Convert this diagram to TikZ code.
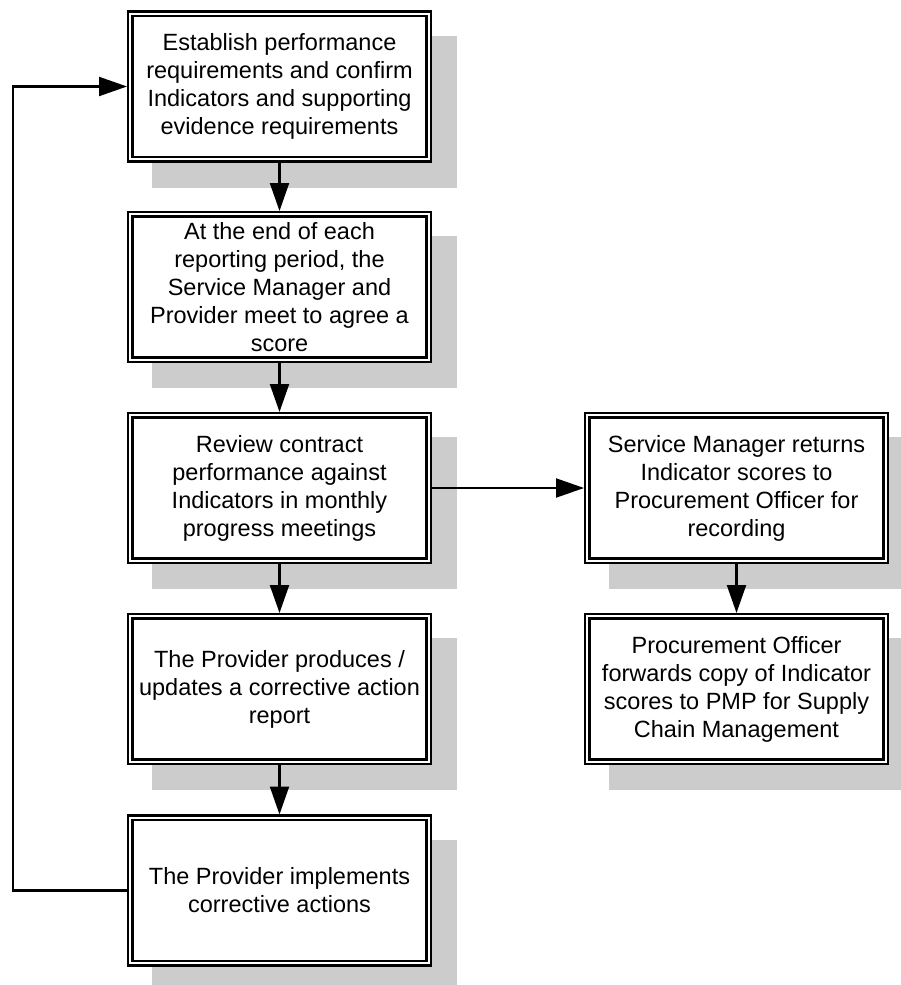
\documentclass[tikz,border=0pt]{standalone}
\usepackage{fontspec}
\setmainfont{Liberation Sans}
\usetikzlibrary{arrows.meta,calc,backgrounds}
\definecolor{shadowgray}{HTML}{CCCCCC}
\tikzset{
  stepbox/.style={draw=black, line width=2.4pt, double=white, double distance=2.1pt,
    fill=white, minimum width=298.2pt, minimum height=145.2pt, inner sep=0pt,
    outer sep=3.4pt, align=center, font=\fontsize{23.5}{28}\selectfont},
  arr/.style={line width=2.1pt, -{Triangle[length=28pt,width=19pt]}},
  shade/.style={fill=shadowgray}
}
\begin{document}
\begin{tikzpicture}[x=1pt,y=-1pt]
\useasboundingbox (0,0) rectangle (901,985);
\node[stepbox] (a) at (279.5,86.5) {Establish performance\\requirements and confirm\\Indicators and supporting\\evidence requirements};
\node[stepbox] (b) at (279.5,287) {At the end of each\\reporting period, the\\Service Manager and\\Provider meet to agree a\\score};
\node[stepbox] (c) at (279.5,488) {Review contract\\performance against\\Indicators in monthly\\progress meetings};
\node[stepbox] (d) at (279.5,689) {The Provider produces /\\updates a corrective action\\report};
\node[stepbox] (e) at (279.5,890.5) {The Provider implements\\corrective actions};
\node[stepbox] (f) at (736.5,488) {Service Manager returns\\Indicator scores to\\Procurement Officer for\\recording};
\node[stepbox] (g) at (736.5,689) {Procurement Officer\\forwards copy of Indicator\\scores to PMP for Supply\\Chain Management};
\begin{scope}[on background layer]
\foreach \n in {a,b,c,d,e,f,g}{
  \fill[shade] ($(\n.north west)+(25,25)$) rectangle ($(\n.south east)+(25,25)$);
}
\end{scope}
\draw[arr] (a) -- (b);
\draw[arr] (b) -- (c);
\draw[arr] (c) -- (d);
\draw[arr] (d) -- (e);
\draw[arr] (c) -- (f);
\draw[arr] (f) -- (g);
\coordinate (loop) at ($(e.west)+(-114,0)$);
\draw[arr] (e.west) -- (loop) |- (a.west);
\end{tikzpicture}
\end{document}
